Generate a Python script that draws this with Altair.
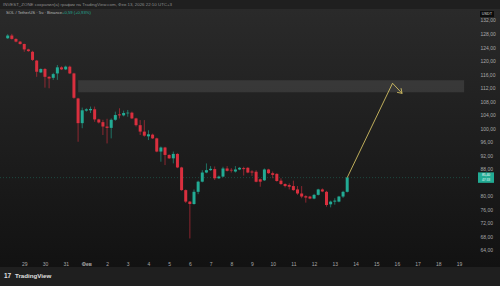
import altair as alt
import pandas as pd

# ---- OHLC values of the 83 candles (SOL/USDT) ----
opens = [126.6, 127.4, 126.4, 125.6, 124.9, 123.3, 122.6, 120.0, 116.5, 117.5,
         115.2, 114.9, 116.2, 118.0, 117.4, 118.2, 116.2, 108.8, 101.5, 105.2,
         105.3, 105.6, 102.6, 101.8, 100.5, 100.1, 102.5, 104.1, 103.8, 104.4,
         104.6, 102.9, 100.9, 99.0, 97.6, 98.1, 97.0, 93.1, 94.3, 92.1,
         91.1, 92.4, 88.4, 81.7, 78.3, 77.6, 81.2, 84.2, 86.9, 87.6,
         87.9, 85.2, 85.7, 88.1, 87.7, 87.2, 87.8, 88.2, 88.3, 87.2,
         87.1, 84.9, 84.6, 87.8, 86.7, 86.5, 84.5, 83.5, 83.2, 82.9,
         81.9, 80.7, 79.9, 79.8, 79.2, 80.3, 81.9, 81.2, 77.5, 78.3,
         78.3, 79.8, 81.2]
highs = [127.8, 127.9, 126.6, 125.8, 125.0, 123.5, 122.9, 120.2, 117.7, 117.8,
         115.4, 116.4, 118.7, 118.3, 118.5, 118.5, 116.4, 109.0, 106.1, 105.9,
         106.4, 106.4, 102.8, 102.5, 102.8, 102.9, 104.9, 105.9, 105.2, 105.4,
         104.9, 103.1, 102.4, 102.4, 99.4, 98.4, 97.2, 94.6, 94.5, 92.3,
         93.1, 92.6, 88.6, 81.9, 78.5, 81.9, 84.5, 87.6, 89.6, 88.8,
         88.7, 86.0, 88.6, 88.8, 88.2, 88.8, 88.5, 88.6, 88.5, 87.6,
         87.6, 85.1, 88.1, 88.0, 87.2, 86.7, 85.2, 83.7, 83.7, 84.5,
         82.9, 82.9, 80.2, 80.0, 80.6, 82.1, 82.2, 81.5, 78.6, 79.3,
         80.0, 81.5, 85.6]
lows = [126.4, 126.2, 125.4, 124.7, 122.6, 122.6, 119.9, 115.2, 116.3, 112.0,
        111.8, 114.3, 114.3, 117.2, 117.2, 116.0, 108.7, 96.0, 100.0, 104.9,
        104.5, 101.9, 101.4, 98.0, 95.5, 97.0, 102.2, 102.9, 103.5, 103.4,
        102.7, 100.5, 98.0, 97.5, 96.5, 96.8, 92.9, 90.1, 89.1, 90.9,
        89.6, 88.2, 81.5, 77.9, 67.4, 77.4, 80.5, 84.0, 86.7, 87.4,
        84.7, 85.0, 85.5, 87.2, 86.9, 86.9, 87.6, 86.0, 86.7, 85.9,
        84.0, 82.7, 84.4, 86.5, 85.2, 84.2, 83.2, 82.5, 81.9, 81.5,
        80.3, 79.3, 78.0, 79.0, 79.0, 80.1, 81.1, 76.8, 76.6, 77.4,
        78.1, 79.4, 81.0]
closes = [127.4, 126.4, 125.6, 124.9, 123.3, 122.8, 120.2, 116.7, 117.5, 115.2,
          114.7, 116.0, 118.0, 117.4, 118.2, 116.2, 109.0, 101.5, 105.3, 105.6,
          105.7, 102.6, 101.7, 100.5, 100.1, 102.5, 103.9, 103.8, 104.5, 104.6,
          102.9, 100.9, 99.0, 97.8, 98.2, 97.0, 93.1, 94.3, 92.1, 91.1,
          92.4, 88.4, 81.7, 78.3, 77.6, 81.2, 84.2, 86.9, 87.6, 88.0,
          85.2, 85.7, 88.1, 87.4, 87.5, 87.8, 88.3, 87.9, 86.9, 86.9,
          84.2, 84.2, 87.8, 86.7, 86.2, 84.4, 83.5, 82.9, 82.7, 81.7,
          80.7, 79.8, 79.5, 79.2, 80.3, 81.9, 81.3, 77.3, 78.3, 78.6,
          79.8, 81.2, 85.4]

# time axis: day number (Jan 29 = 29, Feb 1 = 32 ... Feb 19 = 50)
first_candle_day = 28.2
candle_period_days = 0.2
tick_days = list(range(29, 51))
# 84,00 is hidden behind the last-price label, as in the reference
price_ticks = [64, 68, 72, 76, 80, 88, 92, 96, 100, 104, 108, 112, 116, 120, 124, 128, 132]

# annotation values
zone_days = [31.6, 50.25]
zone_prices = [110.6, 114.2]
arrow_days = [44.6, 46.79, 47.25]
arrow_prices = [85.4, 113.3, 110.3]
head_days = [47.01, 47.20]
head_prices = [110.6, 111.85]

header = "INVEST_ZONE сохранил(а) график на TradingView.com, Фев 13, 2026 22:10 UTC+3"
symbol = "SOL / TetherUS · 5ч · Binance"
change = "+0,59 (+0,93%)"
timer = "47:33"

UP = "#22ab94"
DOWN = "#d92f3e"

n = len(opens)
df = pd.DataFrame({
    "t": [first_candle_day + i * candle_period_days for i in range(n)],
    "open": opens, "high": highs, "low": lows, "close": closes,
})
df["dir"] = ["up" if c >= o else "down" for o, c in zip(opens, closes)]

W, H = 470, 247
xscale = alt.Scale(domain=[28.07, 50.29], nice=False, zero=False)
yscale = alt.Scale(domain=[62.22, 135.25], nice=False, zero=False)

xaxis = alt.Axis(values=tick_days, domain=False, ticks=False, grid=False, zindex=2,
                 labelExpr="datum.value < 32 ? format(datum.value,'d') : (datum.value == 32 ? 'Фев' : format(datum.value - 31,'d'))",
                 labelFontSize=5, labelColor="#a8a8a8", labelPadding=5,
                 labelFontWeight={"condition": {"test": "datum.value == 32", "value": "bold"}, "value": "normal"},
                 labelFlush=False, labelOverlap=False, title=None)
yaxis = alt.Axis(orient="right", values=price_ticks, domain=False, ticks=False, grid=False, zindex=2,
                 labelExpr="replace(format(datum.value, '.2f'), '.', ',')",
                 labelFontSize=5, labelColor="#a8a8a8", labelPadding=10, labelAlign="left",
                 labelOverlap=False, labelFlush=False, title=None)


def X(field):
    return alt.X(f"{field}:Q", scale=xscale, axis=xaxis, title=None)


def Y(field):
    return alt.Y(f"{field}:Q", scale=yscale, axis=yaxis, title=None)


color = alt.Color("dir:N", scale=alt.Scale(domain=["up", "down"], range=[UP, DOWN]), legend=None)

dummy = pd.DataFrame({"a": [0]})

bg = alt.Chart(dummy).mark_rect(
    color=alt.Gradient(gradient="linear",
                       stops=[alt.GradientStop(color="#2a2a2a", offset=0),
                              alt.GradientStop(color="#121212", offset=1)],
                       x1=0, x2=0, y1=0, y2=1)
).encode(x=alt.value(0), x2=alt.value(500), y=alt.value(0), y2=alt.value(258))

zone = alt.Chart(pd.DataFrame({"t0": [zone_days[0]], "t1": [zone_days[1]],
                               "p0": [zone_prices[0]], "p1": [zone_prices[1]]})).mark_rect(
    color="#8a8a8a", opacity=0.2
).encode(x=X("t0"), x2="t1", y=Y("p0"), y2="p1")

last_close = closes[-1]
pline = alt.Chart(pd.DataFrame({"p": [last_close]})).mark_rule(
    color=UP, opacity=0.45, strokeDash=[1, 2], strokeWidth=0.7
).encode(y=Y("p"), x=alt.value(0), x2=alt.value(W))

wicks = alt.Chart(df).mark_rule(strokeWidth=0.8, opacity=0.75).encode(
    x=X("t"), y=Y("low"), y2="high", color=color)
bodies = alt.Chart(df).mark_bar(size=3).encode(
    x=X("t"), y=Y("open"), y2="close", color=color)

arrow_df = pd.DataFrame({
    "t": arrow_days + [head_days[0], arrow_days[-1], head_days[1]],
    "p": arrow_prices + [head_prices[0], arrow_prices[-1], head_prices[1]],
    "seg": ["a"] * 3 + ["h"] * 3,
    "o": [0, 1, 2, 0, 1, 2],
})
arrow = alt.Chart(arrow_df).mark_line(color="#e6d06a", strokeWidth=0.8).encode(
    x=X("t"), y=Y("p"), detail="seg:N", order="o:Q")

# price label box on the right axis
plabel_df = pd.DataFrame({"p": [last_close]}).assign(
    top=lambda d: d.p + 1.55, bot=lambda d: d.p - 1.55,
    txt=lambda d: d.p.map(lambda v: f"{v:.2f}".replace(".", ",")))
pbox = alt.Chart(plabel_df).mark_rect(color=UP).encode(
    y=Y("top"), y2="bot", x=alt.value(478), x2=alt.value(494))
ptxt = alt.Chart(plabel_df).mark_text(fontSize=3.3, color="#ffffff", align="center",
                                      baseline="middle", font="Liberation Sans", dy=-2.4).encode(
    y=Y("p"), x=alt.value(486), text="txt:N")
ptimer = alt.Chart(plabel_df).mark_text(fontSize=3.3, color="#e8fff8", align="center",
                                        baseline="middle", font="Liberation Sans", dy=2.4).encode(
    y=Y("p"), x=alt.value(486), text=alt.value(timer))

usdt_box = alt.Chart(dummy).mark_rect(color="#0c0c0c").encode(
    x=alt.value(480), x2=alt.value(494), y=alt.value(2), y2=alt.value(8))
usdt = alt.Chart(dummy).mark_text(fontSize=3.8, color="#d8d8d8", align="center",
                                  baseline="middle", font="Liberation Sans").encode(
    x=alt.value(487), y=alt.value(5), text=alt.value("USDT"))

head_txt = alt.Chart(dummy).mark_text(fontSize=4.4, color="#8c8c8c", align="left",
                                      baseline="middle", font="Liberation Sans").encode(
    x=alt.value(3), y=alt.value(-4.3), text=alt.value(header))
sym_txt = alt.Chart(dummy).mark_text(fontSize=4.2, color="#b8b8b8", align="left",
                                     baseline="middle", font="Liberation Sans").encode(
    x=alt.value(6), y=alt.value(4.4), text=alt.value(symbol))
chg_txt = alt.Chart(dummy).mark_text(fontSize=4.2, color=UP, align="left",
                                     baseline="middle", font="Liberation Sans").encode(
    x=alt.value(62), y=alt.value(4.4), text=alt.value(change))

logo = alt.Chart(dummy).mark_text(fontSize=6.5, color="#e0e0e0", align="left",
                                  baseline="middle", fontWeight="bold",
                                  font="Liberation Sans").encode(
    x=alt.value(4), y=alt.value(267), text=alt.value("17"))
brand = alt.Chart(dummy).mark_text(fontSize=6.2, color="#e0e0e0", align="left",
                                   baseline="middle", fontWeight="bold",
                                   font="Liberation Sans").encode(
    x=alt.value(15), y=alt.value(267), text=alt.value("TradingView"))

chart = alt.layer(
    bg, zone, pline, wicks, bodies, arrow, pbox, ptxt, ptimer,
    usdt_box, usdt, head_txt, sym_txt, chg_txt, logo, brand
).properties(
    width=W, height=H,
    padding={"left": 0, "top": 9, "right": 30, "bottom": 30},
    autosize=alt.AutoSizeParams(type="none"),
    background="#1f1f1f",
).configure_view(stroke=None).configure_axis(labelFont="Liberation Sans")

chart.save("out.html", embed_options={"renderer": "svg", "actions": False})
